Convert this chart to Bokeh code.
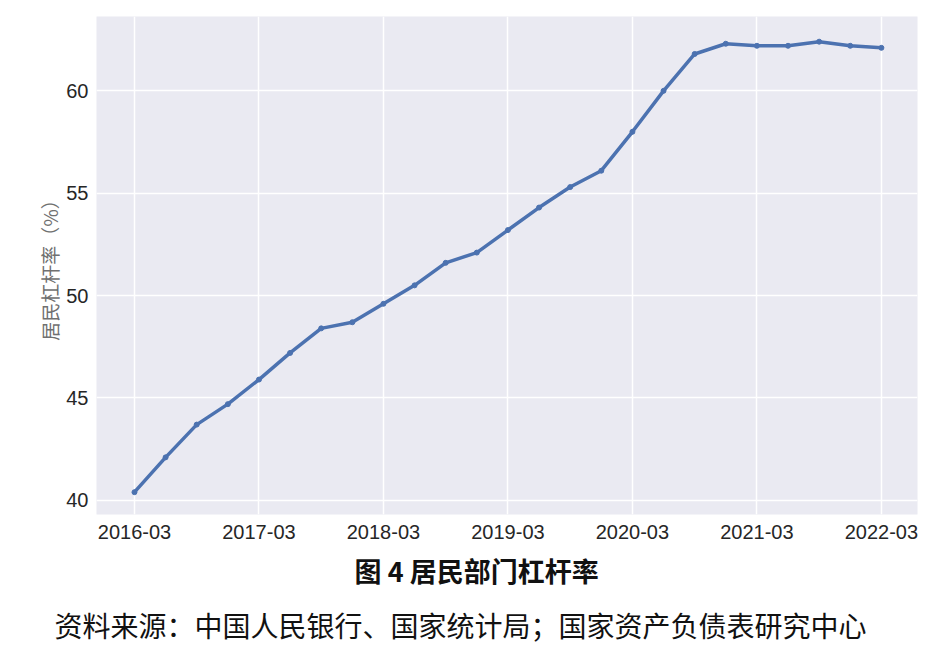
from bokeh.plotting import figure
from bokeh.models import FixedTicker, Title, Range1d
from bokeh.embed import file_html
from bokeh.resources import INLINE

quarters = ["2016-03", "2016-06", "2016-09", "2016-12",
            "2017-03", "2017-06", "2017-09", "2017-12",
            "2018-03", "2018-06", "2018-09", "2018-12",
            "2019-03", "2019-06", "2019-09", "2019-12",
            "2020-03", "2020-06", "2020-09", "2020-12",
            "2021-03", "2021-06", "2021-09", "2021-12",
            "2022-03"]
leverage = [40.4, 42.1, 43.7, 44.7,
            45.9, 47.2, 48.4, 48.7,
            49.6, 50.5, 51.6, 52.1,
            53.2, 54.3, 55.3, 56.1,
            58.0, 60.0, 61.8, 62.3,
            62.2, 62.2, 62.4, 62.2,
            62.1]
tick_labels = ["2016-03", "2017-03", "2018-03", "2019-03", "2020-03", "2021-03", "2022-03"]
y_ticks = [40, 45, 50, 55, 60]

xs = list(range(len(quarters)))
tick_pos = [quarters.index(t) for t in tick_labels]

p = figure(width=931, height=650, output_backend="svg", toolbar_location=None,
           x_range=Range1d(-1.22, 25.16), y_range=Range1d(39.31, 63.63),
           min_border_left=96, min_border_right=14, min_border_top=16, min_border_bottom=10)

p.background_fill_color = "#EAEAF2"
p.border_fill_color = "white"
p.outline_line_color = None

p.line(xs, leverage, line_color="#4C72B0", line_width=3.5)
p.scatter(xs, leverage, size=5, fill_color="#4C72B0", line_color="#4C72B0")

p.xaxis.ticker = FixedTicker(ticks=tick_pos)
p.xaxis.major_label_overrides = {i: t for i, t in zip(tick_pos, tick_labels)}
p.yaxis.ticker = FixedTicker(ticks=y_ticks)

for ax in (p.xaxis[0], p.yaxis[0]):
    ax.axis_line_color = None
    ax.major_tick_line_color = None
    ax.minor_tick_line_color = None
    ax.major_label_text_font = "Liberation Sans"
    ax.major_label_text_font_size = "20px"
    ax.major_label_text_color = "#262626"
p.xaxis.major_label_standoff = 4
p.yaxis.major_label_standoff = 2

p.yaxis.axis_label = "居民杠杆率（%）"
p.yaxis.axis_label_text_font = "Noto Sans CJK SC"
p.yaxis.axis_label_text_font_style = "normal"
p.yaxis.axis_label_text_font_size = "19px"
p.yaxis.axis_label_text_color = "#707070"
p.yaxis.axis_label_standoff = 0

p.xgrid.grid_line_color = "white"
p.ygrid.grid_line_color = "white"
p.xgrid.grid_line_width = 1.5
p.ygrid.grid_line_width = 1.5

t1 = Title(text="图 4  居民部门杠杆率", align="left", offset=258,
           text_font="Noto Sans CJK SC", text_font_size="27px",
           text_font_style="bold", text_color="#111111", standoff=15)
t2 = Title(text="资料来源：中国人民银行、国家统计局；国家资产负债表研究中心", align="left", offset=-42,
           text_font="Noto Sans CJK SC", text_font_size="28px",
           text_font_style="normal", text_color="#111111", standoff=11)
p.add_layout(t1, "below")
p.add_layout(t2, "below")

open("out.html", "w").write(file_html(p, INLINE))
